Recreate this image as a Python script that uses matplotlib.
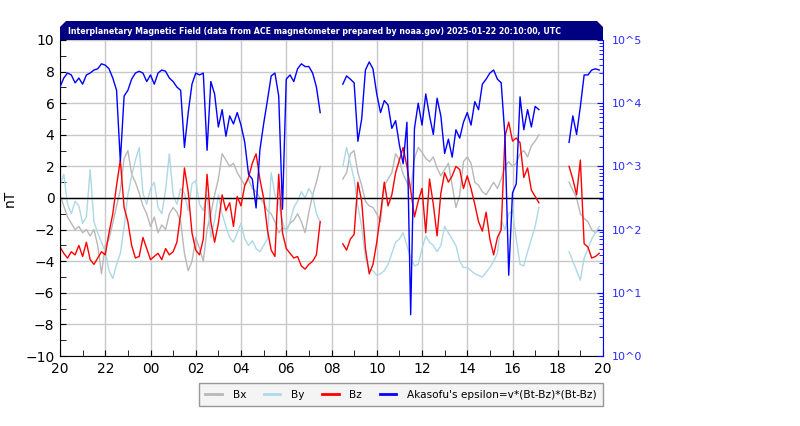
import numpy as np
import pandas as pd
import matplotlib
matplotlib.use("Agg")
import matplotlib.pyplot as plt
import matplotlib.dates as mdates
from matplotlib.patches import Polygon
from matplotlib.lines import Line2D
from matplotlib.ticker import MultipleLocator, LogLocator, NullFormatter, FixedLocator

nan = np.nan

# 10-minute samples, 2025-01-21 20:00 -> 2025-01-22 19:50 UTC
times = pd.date_range("2025-01-21 20:00", periods=144, freq="10min")

bx = [0.2, -0.5, -1.2, -1.6, -2.0, -1.8, -2.2, -2.0, -2.4, -2.0,
      -3.0, -4.8, -3.0, -2.6, -1.6, -0.5, 0.5, 2.5, 3.0, 1.5,
      1.0, 0.3, -0.5, -1.0, -1.8, -1.2, -2.2, -1.7, -2.0, -1.0,
      -0.6, -0.9, -1.5, -3.5, -4.6, -4.0, -2.5, -3.2, -4.0, -2.0,
      -1.0, 0.2, 1.2, 2.8, 2.4, 2.0, 2.2, 1.6, 1.2, 0.8,
      1.2, 0.6, 0.4, 0.0, -0.3, -0.8, -1.0, -1.5, -2.2, -1.9,
      -2.0, -1.6, -1.4, -1.0, -1.5, -2.2, -0.9, 0.2, 1.0, 2.0] + [nan] * 5 + \
     [1.2, 1.6, 2.8, 3.0, 1.6,
      0.8, -0.2, -0.5, -0.6, -1.0, -1.5, 0.8, 1.2, 1.6, 2.8,
      2.4, 1.5, 1.0, 0.5, 2.5, 3.2, 2.9, 2.5, 2.3, 2.6,
      1.9, 1.4, 1.8, 2.2, 0.8, -0.6, 0.2, 2.3, 2.6, 2.2,
      1.0, 0.8, 0.4, 0.2, 0.6, 1.0, 0.6, 1.2, 2.0, 2.3,
      2.0, 2.2, 2.8, 3.0, 2.6, 3.3, 3.6, 4.0] + [nan] * 7 + \
     [1.0, 0.5, 0.0, -1.0, -1.3, -1.5, -2.0, -2.2, -2.0]

by = [0.8, 1.5, -0.4, -1.0, -0.2, -0.5, -1.6, -1.2, 1.8, -1.5,
      -2.2, -2.8, -3.4, -4.6, -5.1, -4.2, -3.5, -1.8, 0.2, 1.4,
      2.4, 3.2, 0.3, -0.4, 0.6, 1.0, -0.6, -1.0, 0.5, 2.8,
      0.2, -0.4, 0.6, 0.3, -0.8, 0.9, 1.1, -0.4, -0.8, 0.2,
      -2.5, -1.4, 0.2, -1.0, -1.8, -2.5, -2.8, -2.2, -1.6, -2.6,
      -3.0, -2.7, -3.2, -3.4, -3.0, -2.6, 1.6, 0.2, -0.3, -1.5,
      -2.2, -1.5, -0.6, -0.2, 0.4, 0.0, 0.6, 0.2, -1.0, -1.5] + [nan] * 5 + \
     [2.0, 3.2, 2.2, 1.2, -0.5,
      -1.8, -3.8, -4.5, -4.6, -4.9, -4.8, -4.6, -4.2, -3.5, -2.8,
      -2.6, -2.2, -3.0, -3.8, -4.3, -4.2, -3.2, -2.4, -2.8, -3.0,
      -3.4, -3.0, -1.8, -2.2, -2.6, -3.0, -4.0, -4.4, -4.4, -4.6,
      -4.8, -4.9, -5.0, -4.7, -4.4, -4.0, -3.5, -1.4, -2.0, -1.0,
      -0.8, -2.6, -4.2, -4.3, -3.4, -2.6, -1.8, -0.6] + [nan] * 7 + \
     [-3.4, -4.0, -4.6, -5.2, -3.8, -3.2, -2.6, -2.2, -1.8]

bz = [-3.1, -3.5, -3.8, -3.4, -3.6, -3.0, -3.7, -2.8, -3.9, -4.2,
      -3.8, -3.4, -3.6, -2.2, -1.0, 0.8, 2.4, -0.6, -1.5, -3.0,
      -3.8, -3.7, -2.5, -3.2, -3.9, -3.7, -3.5, -3.9, -3.2, -3.6,
      -3.4, -2.8, -1.0, 1.9, 0.4, -2.2, -3.3, -3.6, -2.6, 1.5,
      -1.5, -2.8, -1.6, 0.2, -0.8, -0.3, -1.8, 0.1, -0.5, 0.8,
      1.3, 2.2, 2.8, 1.2, 0.0, -2.0, -3.3, -3.7, 1.5, -2.2,
      -3.2, -3.5, -3.8, -3.7, -4.3, -4.5, -4.2, -4.0, -3.6, -1.5] + [nan] * 5 + \
     [-2.9, -3.3, -2.6, -2.3, 1.0,
      -0.2, -3.2, -4.8, -4.2, -2.8, -1.0, 1.0, -0.5, 0.2, 1.6,
      2.4, 3.2, 2.0, 0.5, -1.2, -0.2, 0.6, -2.2, 1.2, -0.4,
      -2.4, 0.3, 1.6, 1.0, 1.4, 2.0, 1.8, 0.6, 1.4, 0.6,
      -0.4, -1.5, -2.1, -0.9, -2.6, -3.6, -2.5, -2.0, 3.9, 4.8,
      3.6, 3.8, 3.5, 1.3, 1.9, 0.5, 0.1, -0.3] + [nan] * 7 + \
     [2.0, 1.2, 0.2, 2.4, -2.9, -3.1, -3.8, -3.7, -3.5]

# Akasofu epsilon (right log axis)
eps = [1.8e4, 2.5e4, 3.0e4, 2.8e4, 2.1e4, 2.5e4, 2.0e4, 2.8e4, 3.0e4, 3.35e4,
       3.5e4, 4.2e4, 4.0e4, 3.5e4, 2.5e4, 1.6e4, 1200, 1.3e4, 1.6e4, 2.4e4,
       3.0e4, 3.2e4, 3.0e4, 2.2e4, 2.8e4, 2.0e4, 3.0e4, 3.35e4, 3.2e4, 2.5e4,
       2.2e4, 1.8e4, 1.6e4, 2000, 7100, 2.0e4, 3.0e4, 2.8e4, 3.0e4, 1800,
       2.2e4, 1.4e4, 4200, 7900, 3000, 6300, 4700, 7100, 4500, 2400,
       750, 630, 220, 1800, 4700, 1.1e4, 2.7e4, 3.0e4, 1.3e4, 210,
       2.4e4, 2.8e4, 2.2e4, 3.5e4, 4.2e4, 3.8e4, 3.8e4, 3.0e4, 1.8e4, 7100] + [nan] * 5 + \
      [2.0e4, 2.7e4, 2.4e4, 2.1e4, 2500,
       5600, 3.35e4, 4.5e4, 3.5e4, 1.4e4, 7100, 1.1e4, 9400, 4000, 5300,
       2200, 1100, 5000, 4.5, 4000, 1.0e4, 4500, 1.4e4, 6300, 3200,
       1.2e4, 6300, 1600, 2700, 1400, 3800, 2800, 5000, 7100, 4500,
       1.06e4, 7900, 2.0e4, 2.4e4, 3.0e4, 3.35e4, 2.4e4, 2.1e4, 3000, 19,
       380, 530, 1.26e4, 3800, 7900, 4200, 8900, 7900] + [nan] * 7 + \
      [2400, 6300, 3200, 8900, 2.8e4, 2.8e4, 3.35e4, 3.5e4, 3.35e4]

title = "Interplanetary Magnetic Field (data from ACE magnetometer prepared by noaa.gov) 2025-01-22 20:10:00, UTC"

W, H = 800, 426
fig = plt.figure(figsize=(W / 100, H / 100), dpi=100)
ax = fig.add_axes([60 / W, 1 - 356 / H, 543 / W, 316 / H])

ax.grid(True, color="#c8c8c8", linewidth=1)
ax.set_axisbelow(True)
ax.plot(times, bx, color="#b8b8b8", lw=1)
ax.plot(times, by, color="#add8e6", lw=1)
ax.axhline(0, color="black", lw=1)
ax.plot(times, bz, color="red", lw=1)

start = pd.Timestamp("2025-01-21 20:00")
ax.set_xlim(start, start + pd.Timedelta(hours=24))
ax.set_ylim(-10, 10)
ax.set_yticks(range(-10, 11, 2))
ax.yaxis.set_minor_locator(MultipleLocator(1))
ax.xaxis.set_major_locator(mdates.HourLocator(interval=2))
ax.xaxis.set_minor_locator(mdates.HourLocator())
ax.xaxis.set_major_formatter(mdates.DateFormatter("%H"))
ax.tick_params(which="both", direction="in", length=4, labelsize=10, pad=4)
ax.set_ylabel("nT", fontsize=10, labelpad=6)
ax.spines["top"].set_visible(False)
ax.spines["right"].set_visible(False)

ax2 = ax.twinx()
ax2.plot(times, eps, color="#0000ff", lw=1)
ax2.set_yscale("log")
ax2.set_ylim(1, 1e5)
ax2.yaxis.set_major_locator(FixedLocator([10 ** i for i in range(6)]))
ax2.set_yticklabels(["10^%d" % i for i in range(6)])
ax2.yaxis.set_minor_locator(LogLocator(base=10, subs=np.arange(2, 10)))
ax2.yaxis.set_minor_formatter(NullFormatter())
ax2.tick_params(which="both", direction="in", colors="#0000ff", labelcolor="#2a2aff",
                labelsize=8, pad=6)
ax2.tick_params(which="major", length=4)
ax2.tick_params(which="minor", length=3)
for s in ["top", "left", "bottom"]:
    ax2.spines[s].set_visible(False)
ax2.spines["right"].set_color("#0000ff")

# title banner
pts = [(60, 40), (60, 27), (66, 21), (597, 21), (603, 27), (603, 40)]
banner = Polygon([(x / W, 1 - y / H) for x, y in pts], closed=True,
                 transform=fig.transFigure, facecolor="#000080", edgecolor="none")
fig.patches.append(banner)
fig.text(68 / W, 1 - 32 / H, title, color="white", fontsize=5.7, fontweight="bold",
         va="center", ha="left")

handles = [Line2D([], [], color="#b8b8b8", lw=2),
           Line2D([], [], color="#add8e6", lw=2),
           Line2D([], [], color="red", lw=2),
           Line2D([], [], color="#0000ff", lw=2)]
labels = ["Bx", "By", "Bz", "Akasofu's epsilon=v*(Bt-Bz)*(Bt-Bz)"]
leg = fig.legend(handles, labels, loc="lower right", bbox_to_anchor=(603 / W, 1 - 406 / H),
                 ncol=4, fontsize=7.6, frameon=True, fancybox=False, handlelength=1.6,
                 columnspacing=1.65, handletextpad=1.0, borderaxespad=0, borderpad=0.6)
leg.get_frame().set_edgecolor("#808080")
leg.get_frame().set_facecolor("#f2f2f2")
leg.get_frame().set_linewidth(1)

fig.savefig("out.png", dpi=100)
